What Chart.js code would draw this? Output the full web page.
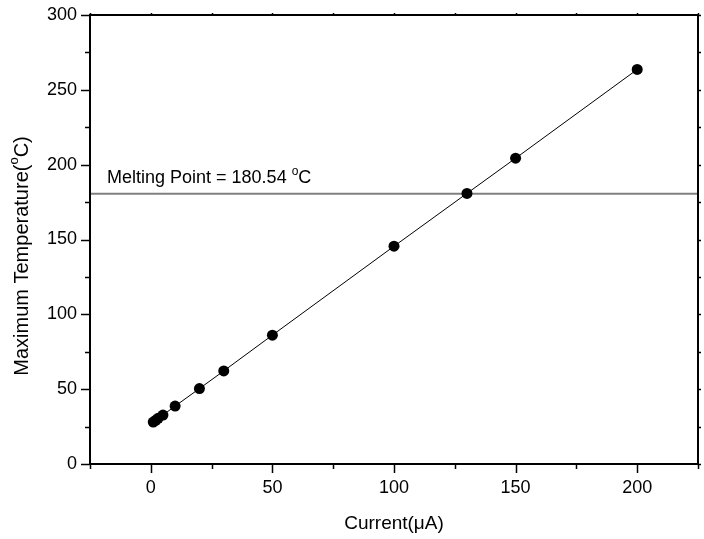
<!DOCTYPE html>
<html>
<head>
<meta charset="utf-8">
<script src="https://cdn.jsdelivr.net/npm/chart.js@4.4.1/dist/chart.umd.min.js"></script>
<style>
  html, body { margin: 0; padding: 0; background: #fff; }
  #wrap { width: 704px; height: 539px; }
</style>
</head>
<body>
<div id="wrap"><canvas id="myChart" width="704" height="539"></canvas></div>
<script>
/* data */
const currents   = [1, 2, 3, 5, 10, 20, 30, 50, 100, 130, 150, 200];
const maxTemps   = [28.0, 29.2, 30.5, 32.7, 38.7, 50.4, 62.2, 86.1, 145.5, 180.8, 204.3, 263.6];
const meltingPoint = 180.54;
const xRange     = [-25, 225];
const yRange     = [0, 300];
const xTicks     = [0, 50, 100, 150, 200];
const xMinor     = [-25, 25, 75, 125, 175, 225];
const yTicks     = [0, 50, 100, 150, 200, 250, 300];
const yMinor     = [25, 75, 125, 175, 225, 275];

const FONT = 'Liberation Sans, Arial, sans-serif';
const TICK_SIZE = 18;

// ticks outside the frame, plus the top/right frame, plus the melting label
const frame = {
  id: 'frame',
  afterDraw(chart) {
    const { ctx, chartArea: a, scales: { x, y } } = chart;
    ctx.save();
    ctx.strokeStyle = '#000';
    ctx.lineWidth = 2;
    ctx.strokeRect(a.left, a.top, a.right - a.left, a.bottom - a.top);

    ctx.lineWidth = 1.5;
    ctx.beginPath();
    const tk = (vals, len) => {
      vals.forEach(v => {
        const px = Math.round(x.getPixelForValue(v)) + 0.5;
        ctx.moveTo(px, a.bottom); ctx.lineTo(px, a.bottom + len);
        ctx.moveTo(px, a.top);    ctx.lineTo(px, a.top - 2);
      });
    };
    const tky = (vals, len) => {
      vals.forEach(v => {
        const py = Math.round(y.getPixelForValue(v)) + 0.5;
        ctx.moveTo(a.left, py);  ctx.lineTo(a.left - len, py);
        ctx.moveTo(a.right, py); ctx.lineTo(a.right + 3, py);
      });
    };
    tk(xTicks, 9); tk(xMinor, 5);
    tky(yTicks, 9); tky(yMinor, 5);
    ctx.stroke();

    // melting point label
    ctx.fillStyle = '#000';
    ctx.font = '18px ' + FONT;
    ctx.textBaseline = 'alphabetic';
    const ly = y.getPixelForValue(meltingPoint) - 11;
    let lx = x.getPixelForValue(-18);
    const t1 = 'Melting Point = 180.54 ';
    ctx.fillText(t1, lx, ly);
    lx += ctx.measureText(t1).width;
    ctx.font = '12px ' + FONT;
    ctx.fillText('o', lx, ly - 8);
    lx += ctx.measureText('o').width;
    ctx.font = '18px ' + FONT;
    ctx.fillText('C', lx, ly);

    // y axis title, rotated, with superscript o
    ctx.translate(22, 256);
    ctx.rotate(-Math.PI / 2);
    ctx.textBaseline = 'middle';
    const p1 = 'Maximum Temperature(', p3 = 'C)';
    ctx.font = '20px ' + FONT;
    const w1 = ctx.measureText(p1).width, w3 = ctx.measureText(p3).width;
    ctx.font = '13px ' + FONT;
    const w2 = ctx.measureText('o').width;
    let sx = -(w1 + w2 + w3) / 2;
    ctx.font = '20px ' + FONT;
    ctx.fillText(p1, sx, 0); sx += w1;
    ctx.font = '13px ' + FONT;
    ctx.fillText('o', sx, -8); sx += w2;
    ctx.font = '20px ' + FONT;
    ctx.fillText(p3, sx, 0);
    ctx.restore();
  }
};

new Chart(document.getElementById('myChart').getContext('2d'), {
  type: 'scatter',
  data: {
    datasets: [
      {
        label: 'Maximum Temperature',
        data: currents.map((c, i) => ({ x: c, y: maxTemps[i] })),
        showLine: true,
        borderColor: '#000',
        borderWidth: 1,
        backgroundColor: '#000',
        pointRadius: 5.5,
        pointBorderWidth: 0,
      },
      {
        label: 'Melting Point',
        data: xRange.map(v => ({ x: v, y: meltingPoint })),
        showLine: true,
        borderColor: '#808080',
        borderWidth: 2,
        pointRadius: 0,
      },
    ]
  },
  options: {
    responsive: false,
    animation: false,
    layout: { padding: { top: 15, right: 6, left: 0, bottom: 0 } },
    plugins: { legend: { display: false }, tooltip: { enabled: false } },
    scales: {
      x: {
        type: 'linear', min: xRange[0], max: xRange[1],
        afterBuildTicks: s => { s.ticks = xTicks.map(v => ({ value: v })); },
        afterFit: s => { s.height = 75; s.paddingLeft = 0; s.paddingRight = 0; },
        grid: { display: false, drawTicks: false },
        border: { display: false },
        ticks: { color: '#000', font: { family: FONT, size: TICK_SIZE }, padding: 13, maxRotation: 0 },
        title: { display: true, text: 'Current(μA)', color: '#000', font: { family: FONT, size: 19 }, padding: { top: 6 } },
      },
      y: {
        type: 'linear', min: yRange[0], max: yRange[1],
        afterBuildTicks: s => { s.ticks = yTicks.map(v => ({ value: v })); },
        afterFit: s => { s.width = 90; s.paddingTop = 0; s.paddingBottom = 0; },
        grid: { display: false, drawTicks: false },
        border: { display: false },
        ticks: { color: '#000', font: { family: FONT, size: TICK_SIZE }, padding: 13 },
      }
    }
  },
  plugins: [frame]
});
</script>
</body>
</html>
